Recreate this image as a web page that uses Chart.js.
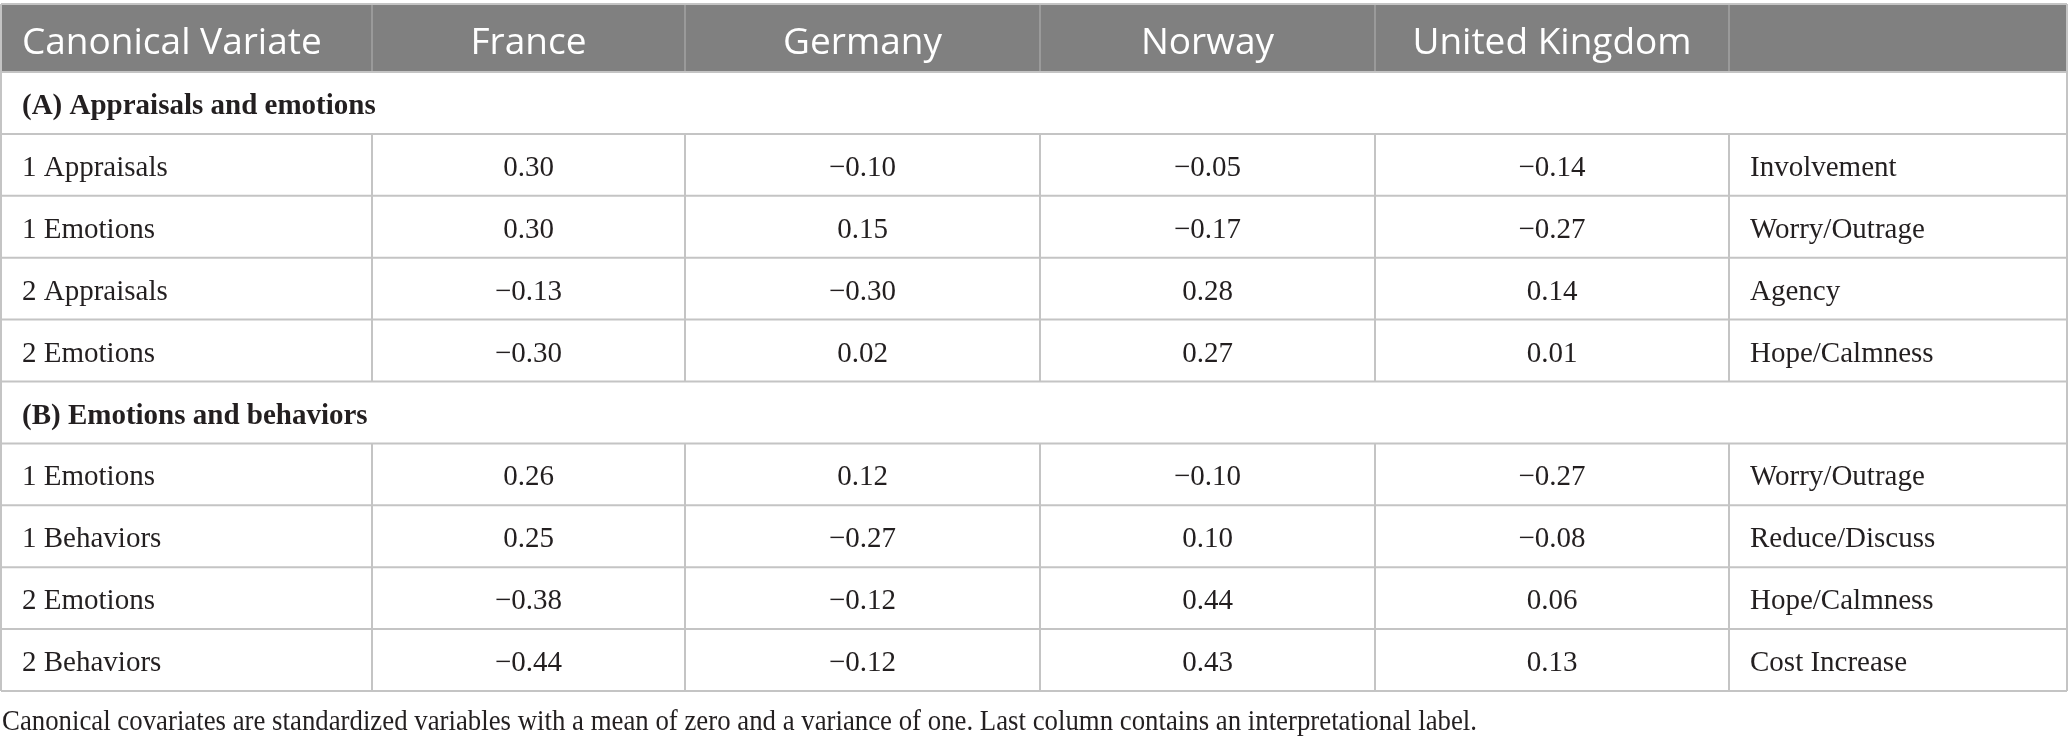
<!DOCTYPE html>
<html>
<head>
<meta charset="utf-8">
<script src="https://cdn.jsdelivr.net/npm/chart.js@4"></script>
<style>
  html, body { margin: 0; padding: 0; background: #ffffff; }
  #wrap { width: 2068px; height: 744px; position: relative; }
</style>
</head>
<body>
<div id="wrap"><canvas id="c"></canvas></div>
<script>
// ---------- data ----------
const columns = ['Canonical Variate', 'France', 'Germany', 'Norway', 'United Kingdom', ''];
const sectionTitles = ['(A) Appraisals and emotions', '(B) Emotions and behaviors'];
const variatesA = ['1 Appraisals', '1 Emotions', '2 Appraisals', '2 Emotions'];
const variatesB = ['1 Emotions', '1 Behaviors', '2 Emotions', '2 Behaviors'];
const franceA  = [0.30, 0.30, -0.13, -0.30];
const franceB  = [0.26, 0.25, -0.38, -0.44];
const germanyA = [-0.10, 0.15, -0.30, 0.02];
const germanyB = [0.12, -0.27, -0.12, -0.12];
const norwayA  = [-0.05, -0.17, 0.28, 0.27];
const norwayB  = [-0.10, 0.10, 0.44, 0.43];
const ukA      = [-0.14, -0.27, 0.14, 0.01];
const ukB      = [-0.27, -0.08, 0.06, 0.13];
const labelsA  = ['Involvement', 'Worry/Outrage', 'Agency', 'Hope/Calmness'];
const labelsB  = ['Worry/Outrage', 'Reduce/Discuss', 'Hope/Calmness', 'Cost Increase'];
const footnote = 'Canonical covariates are standardized variables with a mean of zero and a variance of one. Last column contains an interpretational label.';

// ---------- layout (in scale units) ----------
const layout = {
  colEdges: [1, 372, 685, 1040, 1375, 1729, 2067],
  headerTop: 4, headerH: 68, rowH: 61.9,
  padLeft: 21,
  headerBase: 49.5, rowBase: 42,
  footBase: 730, footWidth: 1477, footSize: 29
};

function fmt(v) {
  return (v < 0 ? '\u2212' + Math.abs(v).toFixed(2) : v.toFixed(2));
}

const sections = [
  { title: sectionTitles[0], names: variatesA, vals: [franceA, germanyA, norwayA, ukA], labels: labelsA },
  { title: sectionTitles[1], names: variatesB, vals: [franceB, germanyB, norwayB, ukB], labels: labelsB }
];
const bodyRows = [];
sections.forEach(s => {
  bodyRows.push({ section: true, text: s.title });
  s.names.forEach((n, i) => {
    bodyRows.push({ section: false, cells: [n, ...s.vals.map(a => fmt(a[i])), s.labels[i]] });
  });
});

const tablePlugin = {
  id: 'tablePlugin',
  afterDraw(chart) {
    const ctx = chart.ctx;
    const xs = chart.scales.x, ys = chart.scales.y;
    const X = v => xs.getPixelForValue(v);
    const Y = v => ys.getPixelForValue(v);
    const E = layout.colEdges;
    const left = X(E[0]), right = X(E[E.length - 1]);
    const hTop = Y(layout.headerTop), hBot = Y(layout.headerTop + layout.headerH);
    const rowTop = i => Y(layout.headerTop + layout.headerH + i * layout.rowH);
    const tBot = rowTop(bodyRows.length);

    ctx.save();
    ctx.fillStyle = '#808080';
    ctx.fillRect(left, hTop, right - left, hBot - hTop);

    ctx.strokeStyle = '#a3a3a3';
    ctx.lineWidth = 1.5;
    for (let c = 1; c < E.length - 1; c++) {
      ctx.beginPath(); ctx.moveTo(X(E[c]), hTop); ctx.lineTo(X(E[c]), hBot); ctx.stroke();
    }
    ctx.strokeStyle = '#c4c4c4';
    ctx.lineWidth = 2;
    ctx.beginPath(); ctx.moveTo(left, hTop); ctx.lineTo(right, hTop); ctx.stroke();

    // header text
    ctx.fillStyle = '#ffffff';
    ctx.font = '37px "Open Sans"';
    ctx.textBaseline = 'alphabetic';
    const hb = Y(layout.headerTop + layout.headerBase);
    columns.forEach((t, c) => {
      if (!t) return;
      if (c === 0) { ctx.textAlign = 'left'; ctx.fillText(t, X(E[0] + layout.padLeft), hb); }
      else { ctx.textAlign = 'center'; ctx.fillText(t, (X(E[c]) + X(E[c + 1])) / 2, hb); }
    });

    // grid lines
    ctx.strokeStyle = '#c4c4c4';
    ctx.lineWidth = 2;
    for (let i = 1; i <= bodyRows.length; i++) {
      ctx.beginPath(); ctx.moveTo(left, rowTop(i)); ctx.lineTo(right, rowTop(i)); ctx.stroke();
    }
    ctx.beginPath(); ctx.moveTo(left, hBot); ctx.lineTo(right, hBot); ctx.stroke();
    ctx.beginPath(); ctx.moveTo(left, hTop); ctx.lineTo(left, tBot); ctx.stroke();
    ctx.beginPath(); ctx.moveTo(right, hTop); ctx.lineTo(right, tBot); ctx.stroke();
    bodyRows.forEach((r, i) => {
      if (r.section) return;
      for (let c = 1; c < E.length - 1; c++) {
        ctx.beginPath(); ctx.moveTo(X(E[c]), rowTop(i)); ctx.lineTo(X(E[c]), rowTop(i + 1)); ctx.stroke();
      }
    });

    // body text
    ctx.fillStyle = '#231f20';
    bodyRows.forEach((r, i) => {
      const base = Y(layout.headerTop + layout.headerH + i * layout.rowH + layout.rowBase);
      if (r.section) {
        ctx.font = 'bold 29px "Liberation Serif"';
        ctx.textAlign = 'left';
        ctx.fillText(r.text, X(E[0] + layout.padLeft), base);
        return;
      }
      ctx.font = '29px "Liberation Serif"';
      r.cells.forEach((t, c) => {
        if (c === 0 || c === r.cells.length - 1) {
          ctx.textAlign = 'left';
          ctx.fillText(t, X(E[c] + layout.padLeft), base);
        } else {
          ctx.textAlign = 'center';
          ctx.fillText(t, (X(E[c]) + X(E[c + 1])) / 2, base);
        }
      });
    });

    // footnote (condensed to the reference width)
    ctx.font = layout.footSize + 'px "Liberation Serif"';
    ctx.textAlign = 'left';
    const w = ctx.measureText(footnote).width;
    const sx = (X(layout.footWidth) - X(2)) / w;
    ctx.translate(X(2), Y(layout.footBase));
    ctx.scale(sx, 1);
    ctx.fillText(footnote, 0, 0);
    ctx.restore();
  }
};

new Chart(document.getElementById('c'), {
  type: 'scatter',
  data: { datasets: [] },
  options: {
    responsive: true,
    maintainAspectRatio: false,
    animation: false,
    layout: { padding: 0 },
    plugins: { legend: { display: false }, tooltip: { enabled: false } },
    scales: {
      x: { type: 'linear', min: 0, max: 2068, display: false },
      y: { type: 'linear', min: 0, max: 744, reverse: true, display: false }
    }
  },
  plugins: [tablePlugin]
});
</script>
</body>
</html>
